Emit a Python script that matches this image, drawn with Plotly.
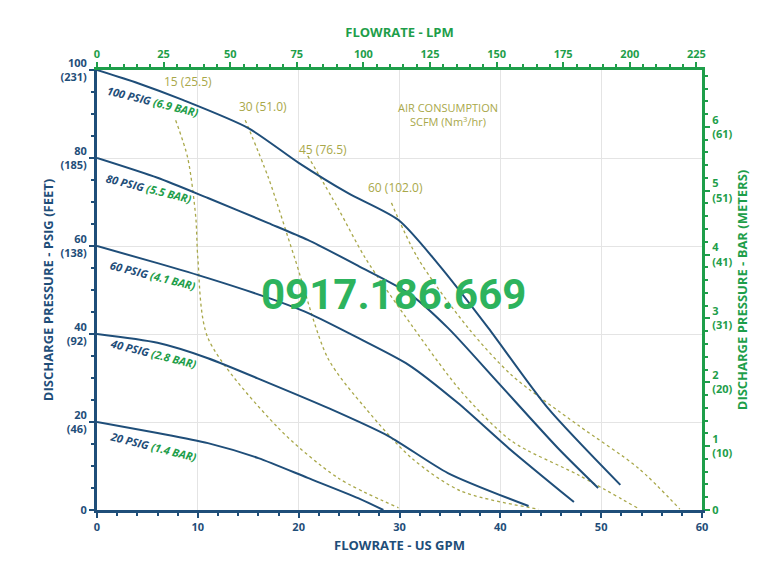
import plotly.graph_objects as go

blue = "#1f4e79"
green = "#1e9e4a"
olive = "#a9a84a"

# Pump curves (x GPM, y PSIG)
c100_x = [0, 4.07, 8.5, 15, 20, 24.9, 29.9, 33.8, 38.8, 44.7, 51.9]
c100_y = [100, 97, 93.2, 86.8, 78.9, 72, 65.9, 56, 41.4, 23.2, 5.7]
c80_x = [0, 6, 11, 17, 20.9, 25.9, 30.9, 34.8, 39.8, 45.7, 49.7]
c80_y = [80, 75.5, 70.9, 65.2, 61.4, 55.5, 49.3, 41.4, 28.9, 14.1, 5]
c60_x = [0, 6, 11, 17, 20.9, 25.9, 30.9, 35.8, 40.8, 47.3]
c60_y = [60, 56.1, 52.7, 48.2, 44.8, 39.1, 33, 24.3, 14.1, 1.8]
c40_x = [0, 6, 11, 17, 22.9, 28.9, 34.8, 42.8]
c40_y = [40, 38, 34.5, 28.9, 23.2, 16.8, 8.4, 0.9]
c20_x = [0, 6, 11, 16, 20.9, 25.9, 28.4]
c20_y = [20, 17.5, 15.2, 11.8, 7.3, 2.7, 0]

# Air consumption lines
a15_x = [7.8, 9, 9.8, 10, 11, 18, 23.9, 29.9]
a15_y = [88.6, 80, 66.4, 57.3, 39.1, 18.6, 7.3, 0.5]
a30_x = [14.7, 17, 19.6, 22.9, 26.6, 31.2, 36.1, 43.8]
a30_y = [88.6, 75.5, 57.3, 34.5, 23.2, 11.8, 4.3, 0.2]
a45_x = [20.9, 23.9, 26.6, 31.2, 36.1, 41.1, 47.7, 53.8]
a45_y = [80.5, 68.6, 57.3, 42, 27, 15.7, 8, 0.2]
a60_x = [29.2, 31.8, 36.8, 41.1, 47.7, 53.7, 57.8]
a60_y = [69.8, 57.3, 41.4, 30.7, 19.3, 9.5, 0.2]

air_labels = ["15 (25.5)", "30 (51.0)", "45 (76.5)", "60 (102.0)"]
air_label_x = [6.4, 13.9, 19.8, 26.7]
air_label_y = [97.3, 91.8, 82, 73.4]

curve_psig = ["100 PSIG", "80 PSIG", "60 PSIG", "40 PSIG", "20 PSIG"]
curve_bar = ["(6.9 BAR)", "(5.5 BAR)", "(4.1 BAR)", "(2.8 BAR)", "(1.4 BAR)"]
curve_label_x = [5.6, 5.2, 5.6, 5.6, 5.6]
curve_label_y = [92.8, 73, 53.2, 35.5, 14.5]

left_vals = [0, 20, 40, 60, 80, 100]
left_text = ["0", "20<br>(46)", "40<br>(92)", "60<br>(138)", "80<br>(185)", "100<br>(231)"]
right_vals = [0, 1, 2, 3, 4, 5, 6]
right_text = ["0", "1<br>(10)", "2<br>(20)", "3<br>(31)", "4<br>(41)", "5<br>(51)", "6<br>(61)"]
lpm_vals = [0, 25, 50, 75, 100, 125, 150, 175, 200, 225]

fig = go.Figure()
for xs, ys in [(a15_x, a15_y), (a30_x, a30_y), (a45_x, a45_y), (a60_x, a60_y)]:
    fig.add_trace(go.Scatter(x=xs, y=ys, mode="lines", line=dict(color=olive, width=1.3, dash="dot", shape="spline", smoothing=0.8), hoverinfo="skip"))
for xs, ys in [(c100_x, c100_y), (c80_x, c80_y), (c60_x, c60_y), (c40_x, c40_y), (c20_x, c20_y)]:
    fig.add_trace(go.Scatter(x=xs, y=ys, mode="lines", line=dict(color=blue, width=2, shape="spline", smoothing=0.7), hoverinfo="skip"))
fig.add_trace(go.Scatter(x=[0], y=[0], xaxis="x2", yaxis="y2", mode="markers", marker=dict(opacity=0), hoverinfo="skip"))

for t, x, y in zip(air_labels, air_label_x, air_label_y):
    fig.add_annotation(x=x, y=y, text=t, showarrow=False, xanchor="left", font=dict(color=olive, size=12, family="Open Sans"))
fig.add_annotation(x=34.8, y=90, text="AIR CONSUMPTION<br>SCFM (Nm<sup>3</sup>/hr)", showarrow=False,
                   font=dict(color=olive, size=11, family="Open Sans"))
for p, b, x, y in zip(curve_psig, curve_bar, curve_label_x, curve_label_y):
    fig.add_annotation(x=x, y=y, textangle=14, showarrow=False,
                       text=f"<b><i><span style='color:{blue}'>{p}</span> <span style='color:{green}'>{b}</span></i></b>",
                       font=dict(size=11, family="Open Sans"))
fig.add_annotation(x=0.49, y=0.49, xref="paper", yref="paper", text="<b>0917.186.669</b>", showarrow=False,
                   font=dict(color="#2db35d", size=42, family="Liberation Sans Narrow, Roboto"))

fig.update_layout(
    width=768, height=572, showlegend=False, plot_bgcolor="white", paper_bgcolor="white",
    margin=dict(l=89, r=74, t=62, b=70),
    font=dict(family="Open Sans"),
    xaxis=dict(range=[0, 60], dtick=10, showgrid=True, gridcolor="#e4e4e4", showline=True, linecolor=blue, linewidth=3,
               ticks="outside", tickcolor=blue, ticklen=5, tickwidth=2, automargin=False,
               minor=dict(dtick=2, ticks="outside", ticklen=3, tickcolor=blue, showgrid=False),
               tickfont=dict(color=blue, size=11, family="Open Sans", weight="bold"), zeroline=False,
               title=dict(text="<b>FLOWRATE - US GPM</b>", font=dict(color=blue, size=13), standoff=8)),
    yaxis=dict(range=[0, 100], tickvals=left_vals, ticktext=left_text, showgrid=True, gridcolor="#e4e4e4",
               showline=True, linecolor=blue, linewidth=3, ticks="outside", tickcolor=blue, ticklen=5, tickwidth=2,
               automargin=False,
               minor=dict(dtick=5, ticks="outside", ticklen=3, tickcolor=blue, showgrid=False),
               tickfont=dict(color=blue, size=11, family="Open Sans", weight="bold"), zeroline=False,
               title=dict(text="<b>DISCHARGE PRESSURE - PSIG (FEET)</b>", font=dict(color=blue, size=13), standoff=4)),
    xaxis2=dict(overlaying="x", side="top", range=[0, 227.1], tickvals=lpm_vals, showgrid=False, showline=True,
                linecolor=green, linewidth=3, ticks="outside", tickcolor=green, ticklen=5, tickwidth=2, automargin=False,
                minor=dict(dtick=5, ticks="outside", ticklen=3, tickcolor=green),
                tickfont=dict(color=green, size=11, weight="bold"), zeroline=False,
                title=dict(text="<b>FLOWRATE - LPM</b>", font=dict(color=green, size=13), standoff=6)),
    yaxis2=dict(overlaying="y", side="right", range=[0, 6.89], tickvals=right_vals, ticktext=right_text, showgrid=False,
                showline=True, linecolor=green, linewidth=3, ticks="outside", tickcolor=green, ticklen=5, tickwidth=2,
                automargin=False,
                minor=dict(dtick=0.2, ticks="outside", ticklen=3, tickcolor=green),
                tickfont=dict(color=green, size=11, weight="bold"), zeroline=False,
                title=dict(text="<b>DISCHARGE PRESSURE - BAR (METERS)</b>", font=dict(color=green, size=13), standoff=6)),
)
fig.write_html("out.html")
